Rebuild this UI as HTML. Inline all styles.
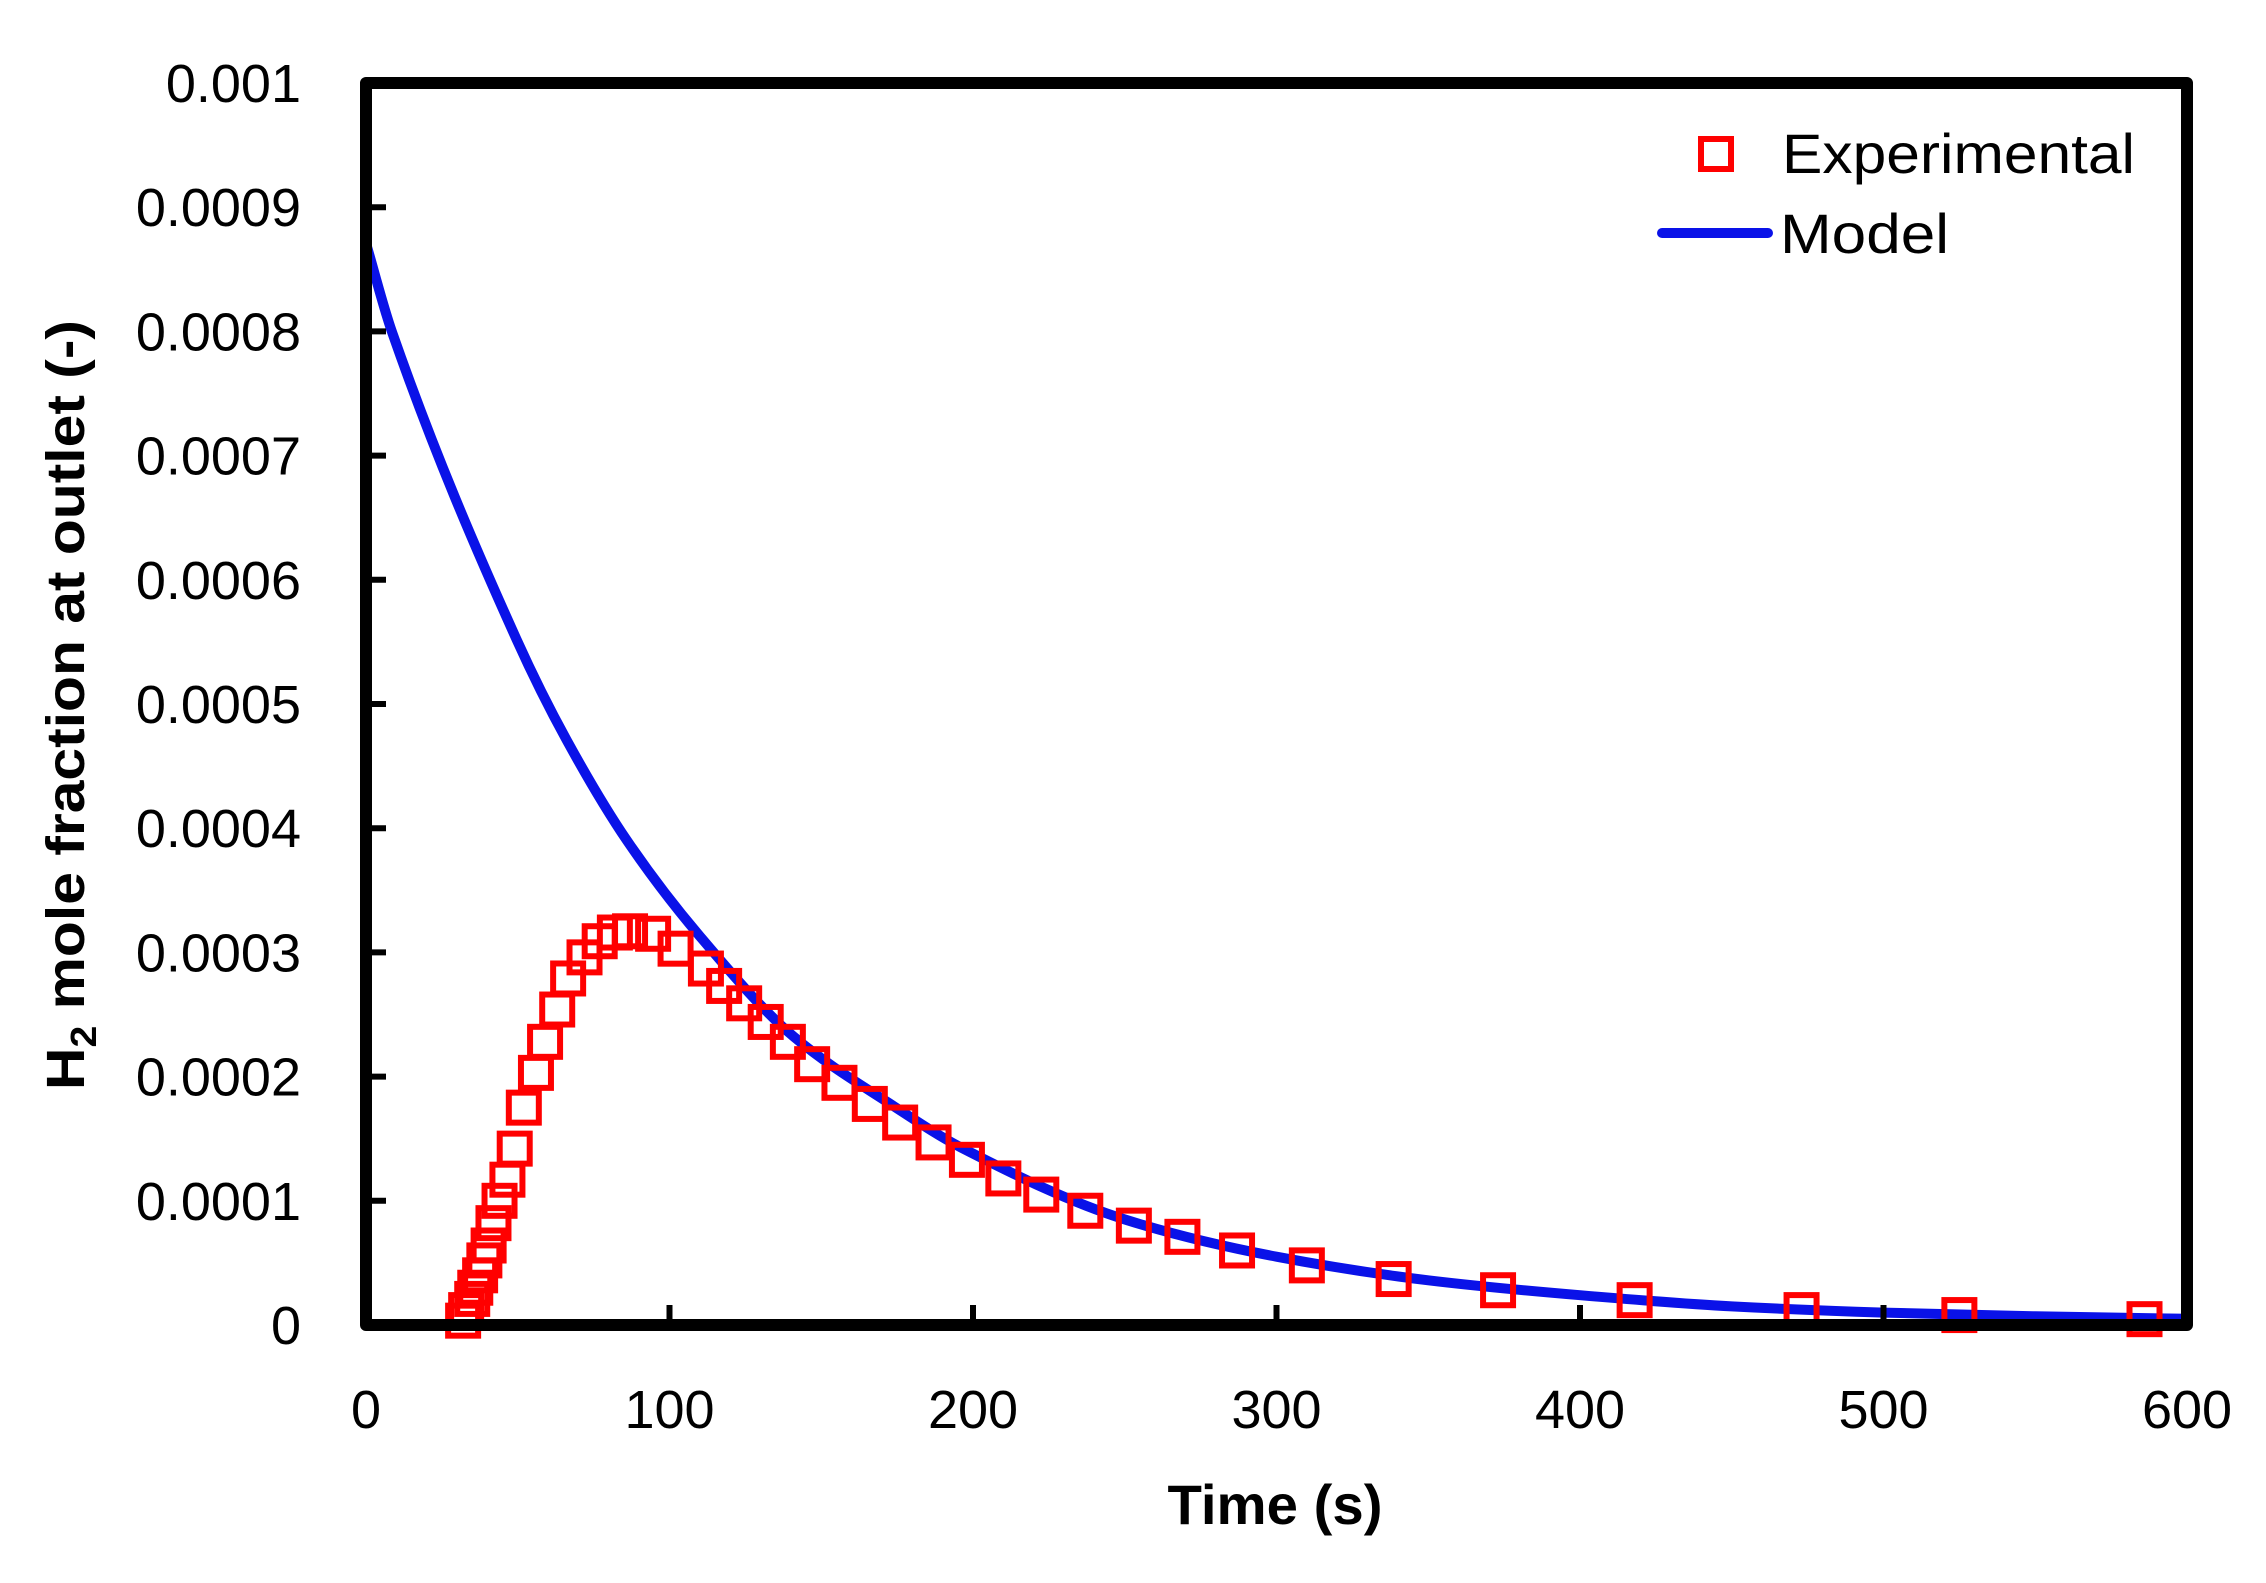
<!DOCTYPE html>
<html><head><meta charset="utf-8"><style>
html,body{margin:0;padding:0;background:#fff;}
svg{display:block;font-family:"Liberation Sans",sans-serif;}
</style></head><body>
<svg id="chart" width="2266" height="1583" viewBox="0 0 2266 1583" xmlns="http://www.w3.org/2000/svg">
<rect width="2266" height="1583" fill="#fff"/>
<g id="marks"></g>
<g id="axes"></g>
</svg>
<script>
const xTicks=[0,100,200,300,400,500,600];
const yTicks=[0,0.0001,0.0002,0.0003,0.0004,0.0005,0.0006,0.0007,0.0008,0.0009,0.001];
const yTickLabels=["0","0.0001","0.0002","0.0003","0.0004","0.0005","0.0006","0.0007","0.0008","0.0009","0.001"];
const expT=[32,33,35,36,37.6,39,40.4,42,44,46.6,49,52,56,59,63,66.6,72,77,82,87,94.6,102,112,118,124.6,131.7,139,147,156,166,176,187,198,210,222.5,237,253,269,287,310,338.6,373,418,473,525,586];
const expY=[0.0000035,0.000012,0.000021,0.00003,0.00004,0.000052,0.000064,0.000082,0.0001,0.000117,0.000142,0.000175,0.000203,0.000228,0.000254,0.000279,0.000296,0.000309,0.000316,0.000317,0.000315,0.000303,0.000287,0.000273,0.000259,0.000244,0.000228,0.00021,0.000195,0.000178,0.000163,0.000147,0.000133,0.000118,0.000105,0.000092,0.00008,0.000071,0.00006,0.000048,0.000037,0.000028,0.00002,0.000012,0.000008,0.0000047];
const modelT=[0,8.5,49.6,66.1,86,110,141,174,196,250,300,350,400,450,500,550,600];
const modelY=[0.000871,0.0008,0.000552,0.000471,0.00039,0.000313,0.000232,0.000176,0.000143,0.000085,0.000055,0.000036,0.000024,0.000015,0.00001,0.000007,0.000005];

const L=366,R=2187,T=83,B=1325;
const sx=v=>L+(v/600)*(R-L);
const sy=v=>B-(v/0.001)*(B-T);
const NS="http://www.w3.org/2000/svg";
function mk(tag,attrs,parent){const e=document.createElementNS(NS,tag);for(const k in attrs)e.setAttribute(k,attrs[k]);parent.appendChild(e);return e;}
const marks=document.getElementById('marks'), axes=document.getElementById('axes');

const px=modelT.map(sx), py=modelY.map(sy), n=px.length;
const dk=[],m=[];
for(let i=0;i<n-1;i++)dk.push((py[i+1]-py[i])/(px[i+1]-px[i]));
m[0]=dk[0];m[n-1]=dk[n-2];
for(let i=1;i<n-1;i++){m[i]=(dk[i-1]*dk[i]<=0)?0:(2/(1/dk[i-1]+1/dk[i]));}
let d="M"+px[0]+","+py[0];
for(let i=0;i<n-1;i++){const h=(px[i+1]-px[i])/3;
d+=` C${px[i]+h},${py[i]+m[i]*h} ${px[i+1]-h},${py[i+1]-m[i+1]*h} ${px[i+1]},${py[i+1]}`;}
const line=mk('path',{d:d,fill:'none',stroke:'#0a12e8','stroke-width':10,'stroke-linecap':'round'},marks);



expT.forEach((t,i)=>{const r=mk('rect',{x:sx(t)-15,y:sy(expY[i])-15,width:30,height:30,fill:'none',stroke:'#ff0000','stroke-width':6},marks);

});

const fr=mk('rect',{x:L,y:T,width:R-L,height:B-T,fill:'none',stroke:'#000','stroke-width':12,'stroke-linejoin':'round'},axes);



yTicks.forEach((v,i)=>{const y=sy(v);
const tk=mk('line',{x1:L,x2:L+20,y1:y,y2:y,stroke:'#000','stroke-width':6},axes);


const tx=mk('text',{x:301,y:y+19,'text-anchor':'end','font-size':54,fill:'#000'},axes);tx.textContent=yTickLabels[i];

});
xTicks.forEach(v=>{const x=sx(v);
const tk=mk('line',{x1:x,x2:x,y1:B,y2:B-20,stroke:'#000','stroke-width':6},axes);


const tx=mk('text',{x:x,y:1428,'text-anchor':'middle','font-size':54,fill:'#000'},axes);tx.textContent=String(v);

});

const xt=mk('text',{x:1275,y:1524,'text-anchor':'middle','font-size':56,'font-weight':'bold',fill:'#000',textLength:215,lengthAdjust:'spacingAndGlyphs'},axes);xt.textContent="Time (s)";


const yt=mk('text',{x:0,y:0,'text-anchor':'middle','font-size':54,'font-weight':'bold',fill:'#000',transform:'translate(84,705) rotate(-90)',textLength:770,lengthAdjust:'spacingAndGlyphs'},axes);
yt.innerHTML='H<tspan font-size="36" dy="12">2</tspan><tspan dy="-12"> mole fraction at outlet (-)</tspan>';



const lg=mk('g',{},axes);


const ls=mk('rect',{x:1701,y:139,width:30,height:30,fill:'none',stroke:'#ff0000','stroke-width':6},lg);


const lt1=mk('text',{x:1782,y:173,'font-size':56,fill:'#000',textLength:353,lengthAdjust:'spacingAndGlyphs'},lg);lt1.textContent="Experimental";


const ll=mk('line',{x1:1662,x2:1768,y1:233,y2:233,stroke:'#0a12e8','stroke-width':10,'stroke-linecap':'round'},lg);


const lt2=mk('text',{x:1780,y:253,'font-size':56,fill:'#000',textLength:169,lengthAdjust:'spacingAndGlyphs'},lg);lt2.textContent="Model";


</script>
</body></html>
